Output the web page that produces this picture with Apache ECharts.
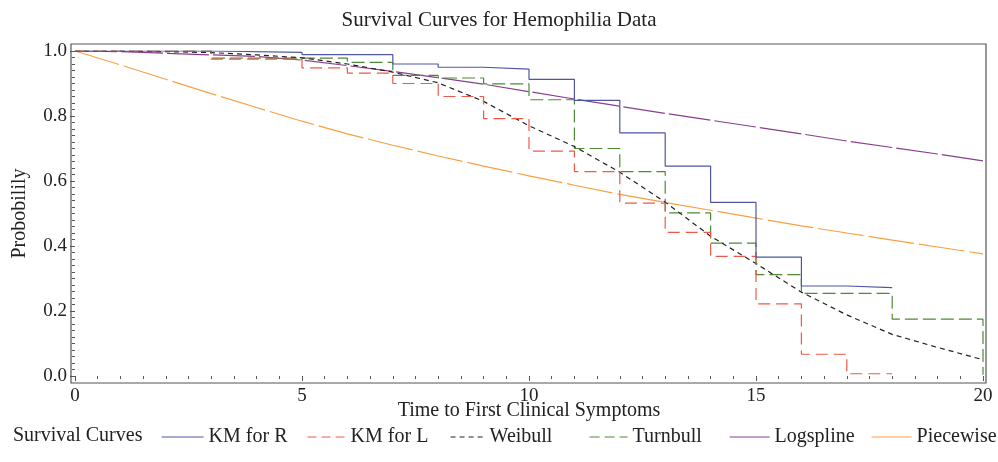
<!DOCTYPE html>
<html>
<head>
<meta charset="utf-8">
<script src="https://cdn.jsdelivr.net/npm/echarts@6/dist/echarts.min.js"></script>
<style>html,body{margin:0;padding:0;background:#fff}#c{width:998px;height:462px}</style>
</head>
<body>
<div id="c"></div>
<script>
// ---- data ----
const seriesNames = ['KM for R', 'KM for L', 'Weibull', 'Turnbull', 'Logspline', 'Piecewise'];
const xTicks = [0, 5, 10, 15, 20];
const yTicks = [0.0, 0.2, 0.4, 0.6, 0.8, 1.0];

const kmR = [[0,1],[3,0.996],[5,0.989],[7,0.96],[8,0.95],[9,0.944],[10,0.913],[11,0.848],[12,0.748],[13,0.646],[14,0.534],[15,0.366],[16,0.277],[17,0.272],[18,0.272]];
const kmL = [[0,1],[3,0.975],[5,0.948],[6,0.932],[7,0.9],[8,0.86],[9,0.792],[10,0.692],[11,0.629],[12,0.532],[13,0.442],[14,0.368],[15,0.222],[16,0.067],[17,0.007],[18,0.007]];
const turnbull = [[0,1],[3,0.978],[6,0.965],[7,0.925],[8,0.917],[9,0.899],[10,0.85],[11,0.7],[12,0.629],[13,0.502],[14,0.409],[15,0.312],[16,0.254],[18,0.175],[20,0.175],[20,0.004]];
const weibull = [[0,1],[1,0.9995],[2,0.998],[3,0.995],[4,0.988],[5,0.979],[6,0.96],[7,0.935],[8,0.902],[9,0.845],[10,0.77],[11,0.706],[12,0.627],[13,0.535],[14,0.43],[15,0.346],[16,0.258],[17,0.188],[18,0.128],[19,0.088],[20,0.05]];
const logspline = [[0,1],[1,0.998],[2,0.993],[3,0.988],[4,0.983],[5,0.972],[6,0.955],[7,0.937],[8,0.918],[9,0.898],[10,0.875],[11,0.852],[12,0.83],[13,0.808],[14,0.787],[15,0.766],[16,0.745],[17,0.723],[18,0.703],[19,0.683],[20,0.662]];
const piecewise = [[0,1],[1,0.957],[2,0.913],[3,0.869],[4,0.826],[5,0.784],[6,0.745],[7,0.71],[8,0.677],[9,0.646],[10,0.616],[11,0.587],[12,0.559],[13,0.534],[14,0.51],[15,0.486],[16,0.462],[17,0.44],[18,0.418],[19,0.397],[20,0.376]];

// ---- chart ----
const FONT = '"Liberation Serif", "Times New Roman", serif';
const colors = ['#4f55a3', '#f0584a', '#222222', '#4e8a34', '#8a3f8e', '#f9a040'];
const dashes = ['solid', [12, 6], [5, 4], [13, 5], [42, 4], [46, 5]];
const datas = [kmR, kmL, weibull, turnbull, logspline, piecewise];
const steps = [true, true, false, true, false, false];
const legendDash = ['solid', [9, 5], [5, 4], [10, 5], 'solid', 'solid'];
const legendLeft = [156, 302, 445, 584, 724, 866];
const legendIconW = [42, 38, 34, 38, 40, 40];

const chart = echarts.init(document.getElementById('c'), null, {renderer: 'canvas'});
chart.setOption({
  animation: false,
  backgroundColor: '#fff',
  title: [
    {text: 'Survival Curves for Hemophilia Data', left: 'center', top: 5,
     textStyle: {fontFamily: FONT, fontSize: 21, fontWeight: 'normal', color: '#222'}},
    {text: 'Survival Curves', left: 8, top: 421,
     textStyle: {fontFamily: FONT, fontSize: 20, fontWeight: 'normal', color: '#222'}}
  ],
  legend: seriesNames.map((n, i) => ({
    left: legendLeft[i], top: 422, itemWidth: legendIconW[i], itemHeight: 12, itemGap: 0,
    itemStyle: {opacity: 0},
    textStyle: {fontFamily: FONT, fontSize: 20, color: '#222'},
    data: [{name: n, itemStyle: {opacity: 0}, lineStyle: {type: legendDash[i], width: 1.2}}]
  })),
  grid: [
    {left: 75, right: 15, top: 51, bottom: 86},
    {left: 71, right: 12, top: 44, bottom: 79, show: true, borderColor: '#555', borderWidth: 1.2, backgroundColor: 'transparent'}
  ],
  xAxis: {
    type: 'value', min: 0, max: 20, interval: 5, offset: 7,
    name: 'Time to First Clinical Symptoms', nameLocation: 'middle', nameGap: 18,
    nameMoveOverlap: false,
    nameTextStyle: {fontFamily: FONT, fontSize: 20, color: '#222'},
    axisLine: {show: false},
    axisTick: {show: true, length: 5, lineStyle: {color: '#555'}},
    minorTick: {show: true, splitNumber: 10, length: 3, lineStyle: {color: '#555'}},
    splitLine: {show: false},
    axisLabel: {fontFamily: FONT, fontSize: 19, color: '#222', margin: 4,
      formatter: v => xTicks.includes(v) ? String(v) : ''}
  },
  yAxis: {
    type: 'value', min: 0, max: 1, interval: 0.2, offset: 4,
    name: 'Probobilily', nameLocation: 'middle', nameGap: 41, nameRotate: 90,
    nameMoveOverlap: false,
    nameTextStyle: {fontFamily: FONT, fontSize: 20, color: '#222'},
    axisLine: {show: false},
    axisTick: {show: true, length: 5, lineStyle: {color: '#555'}},
    minorTick: {show: true, splitNumber: 10, length: 3, lineStyle: {color: '#555'}},
    splitLine: {show: false},
    axisLabel: {fontFamily: FONT, fontSize: 19, color: '#222', margin: 4,
      formatter: v => yTicks.some(t => Math.abs(t - v) < 1e-9) ? v.toFixed(1) : ''}
  },
  series: seriesNames.map((n, i) => ({
    name: n, type: 'line', data: datas[i], step: steps[i] ? 'end' : false,
    symbol: 'none', showSymbol: false, smooth: false, color: colors[i],
    lineStyle: {color: colors[i], width: 1.2, type: dashes[i]},
    z: 10 - i
  }))
});
</script>
</body>
</html>
